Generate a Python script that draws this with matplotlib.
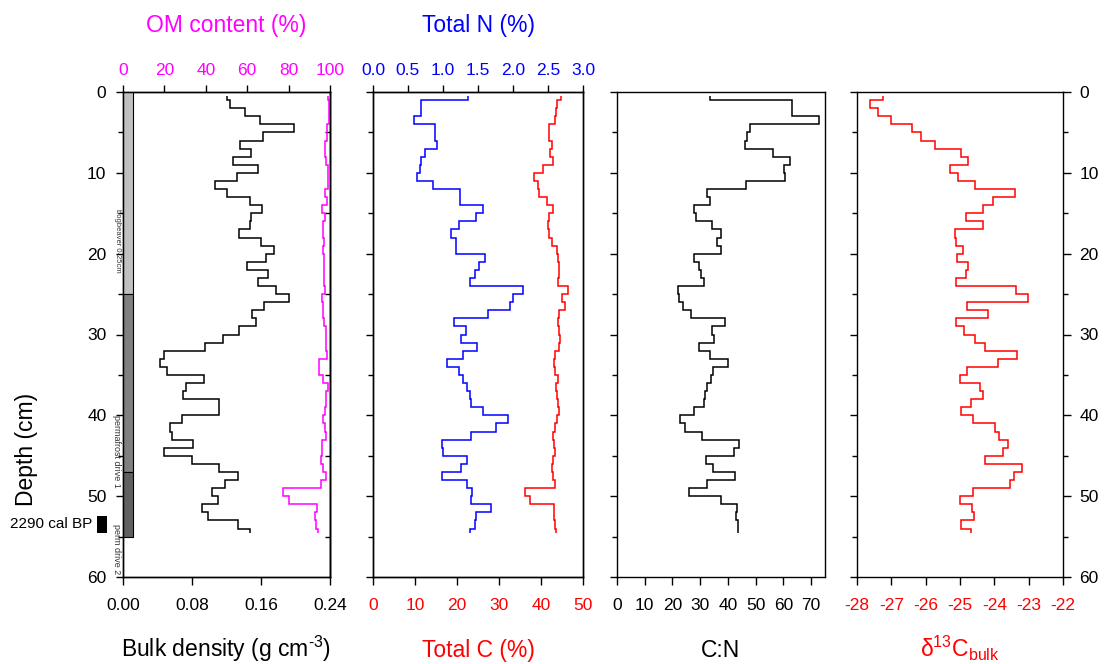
import matplotlib
matplotlib.use('Agg')
import matplotlib.pyplot as plt
from matplotlib.patches import Rectangle
from matplotlib.ticker import FixedLocator, MultipleLocator

plt.rcParams['font.family'] = ['Liberation Sans', 'DejaVu Sans']
plt.rcParams['mathtext.fontset'] = 'custom'
plt.rcParams['mathtext.rm'] = 'Liberation Sans'
plt.rcParams['mathtext.it'] = 'Liberation Sans:italic'
plt.rcParams['mathtext.default'] = 'regular'
plt.rcParams['axes.unicode_minus'] = False
plt.rcParams['axes.linewidth'] = 1.0

# ---------------- data ----------------
depth_edges = [0.5, 1, 2, 3, 4, 5, 6, 7, 8, 9, 10, 11, 12, 13, 14, 15, 16, 17, 18, 19,
               20, 21, 22, 23, 24, 25, 26, 27, 28, 29, 30, 31, 32, 33, 34, 35, 36, 37, 38,
               39, 40, 41, 42, 43, 44, 45, 46, 47, 48, 49, 50, 51, 52, 53, 54, 54.5]

bulk_density = [0.120, 0.124, 0.142, 0.159, 0.198, 0.162, 0.136, 0.148, 0.127, 0.156,
                0.132, 0.107, 0.120, 0.147, 0.161, 0.148, 0.147, 0.134, 0.160, 0.175,
                0.166, 0.144, 0.168, 0.157, 0.177, 0.192, 0.163, 0.150, 0.154, 0.135,
                0.116, 0.095, 0.047, 0.043, 0.051, 0.094, 0.073, 0.070, 0.111, 0.111,
                0.068, 0.054, 0.057, 0.081, 0.047, 0.080, 0.111, 0.133, 0.118, 0.103,
                0.110, 0.092, 0.098, 0.133, 0.147]

om_content = [99.2, 99.7, 99.7, 99.5, 98.6, 98.4, 97.7, 97.7, 97.9, 98.9,
              98.9, 98.9, 97.6, 98.4, 96.0, 97.6, 96.8, 96.8, 96.9, 96.8,
              97.1, 97.1, 97.3, 97.1, 97.6, 96.3, 96.8, 96.8, 97.0, 98.1,
              98.1, 98.1, 98.7, 94.9, 94.9, 96.8, 99.2, 98.1, 98.1, 97.6,
              96.5, 97.6, 98.1, 96.0, 96.0, 95.5, 96.8, 98.1, 95.5, 77.5,
              80.1, 93.6, 92.8, 93.2, 94.4]

total_n = [1.35, 0.69, 0.69, 0.59, 0.88, 0.89, 0.92, 0.74, 0.69, 0.67,
           0.63, 0.86, 1.24, 1.24, 1.57, 1.47, 1.23, 1.12, 1.18, 1.18,
           1.60, 1.52, 1.45, 1.39, 2.14, 2.00, 1.95, 1.64, 1.15, 1.33,
           1.25, 1.48, 1.29, 1.06, 1.23, 1.29, 1.34, 1.38, 1.40, 1.57,
           1.93, 1.75, 1.40, 0.98, 1.00, 1.34, 1.26, 0.98, 1.34, 1.41,
           1.40, 1.68, 1.47, 1.45, 1.39]

total_c = [44.8, 43.7, 43.6, 43.3, 42.0, 41.8, 42.6, 42.1, 42.8, 40.5,
           38.4, 39.4, 39.6, 41.4, 42.8, 41.8, 41.7, 41.8, 42.5, 43.8,
           44.1, 44.2, 44.4, 44.1, 46.4, 44.9, 45.8, 44.2, 44.1, 44.4,
           44.5, 44.4, 43.3, 43.0, 43.4, 44.0, 43.6, 43.7, 44.0, 44.4,
           43.7, 43.3, 42.9, 43.2, 43.4, 42.8, 42.6, 42.8, 43.4, 36.1,
           37.4, 43.2, 43.0, 43.3, 43.6]

c_to_n = [33.4, 63.2, 63.2, 72.9, 47.8, 46.9, 46.3, 56.3, 62.4, 60.2,
          60.6, 46.6, 32.4, 33.6, 27.6, 28.5, 34.2, 37.5, 36.0, 37.5,
          27.9, 29.6, 30.4, 31.4, 21.9, 22.5, 23.7, 26.6, 38.8, 34.2,
          35.1, 29.7, 33.6, 40.0, 34.6, 34.0, 32.6, 31.8, 31.2, 27.9,
          22.7, 24.5, 30.6, 43.9, 42.3, 32.2, 34.5, 42.7, 32.6, 25.8,
          37.6, 43.3, 43.0, 43.5, 43.5]

d13c = [-27.24, -27.61, -27.40, -27.01, -26.40, -26.14, -25.74, -24.96, -24.77, -25.28,
        -25.06, -24.55, -23.41, -24.05, -24.34, -24.82, -24.33, -25.14, -25.11, -24.92,
        -25.09, -24.77, -24.82, -25.11, -23.36, -23.02, -24.80, -24.17, -25.11, -24.87,
        -24.55, -24.26, -23.34, -23.90, -24.80, -24.99, -24.41, -24.34, -24.67, -24.96,
        -24.63, -23.99, -23.87, -23.60, -23.75, -24.26, -23.19, -23.42, -23.53, -24.62,
        -24.99, -24.65, -24.60, -24.96, -24.67]

core_bounds = [0, 25, 47, 55]
core_colors = ['#c0c0c0', '#808080', '#606060']
core_labels = ['bogbeaver 0-25cm', 'permafrost drive 1', 'perm drive 2']
core_label_top = [14.5, 40.0, 53.5]
date_label = '2290 cal BP'
date_depth = [52.4, 54.6]

depth_ticks = [0, 10, 20, 30, 40, 50, 60]
bd_ticks = [0.00, 0.08, 0.16, 0.24]
om_ticks = [0, 20, 40, 60, 80, 100]
n_ticks = [0.0, 0.5, 1.0, 1.5, 2.0, 2.5, 3.0]
c_ticks = [0, 10, 20, 30, 40, 50]
cn_ticks = [0, 10, 20, 30, 40, 50, 60, 70]
d13c_ticks = [-28, -27, -26, -25, -24, -23, -22]

# ---------------- layout ----------------
W, H = 1104, 664
fig = plt.figure(figsize=(W / 100, H / 100), dpi=100)

def fx(px):
    return px / W

def fy(py):
    return 1 - py / H

def rect(x0, x1, ytop=92, ybot=577):
    return [x0 / W, 1 - ybot / H, (x1 - x0) / W, (ybot - ytop) / H]

TFS = 12.5
LFS = 16.5
MAJ = 5.4
MIN = 3.5
LW = 1.1
MAGENTA = '#ff00ff'
BLUE = '#0000ff'
RED = '#ff0000'


def depth_axis(ax, left_labels=False, right=False):
    ax.set_ylim(60, 0)
    ax.yaxis.set_major_locator(FixedLocator(depth_ticks))
    ax.yaxis.set_minor_locator(MultipleLocator(5))
    ax.tick_params(axis='y', which='both', direction='out', left=True,
                   right=right, labelleft=left_labels, labelright=right,
                   labelsize=TFS, pad=6.5, width=1.0)
    ax.tick_params(axis='y', which='major', length=MAJ)
    ax.tick_params(axis='y', which='minor', length=MIN)


def bottom_axis(ax, lim, ticks, labels, color):
    ax.set_xlim(*lim)
    ax.set_xticks(ticks)
    ax.set_xticklabels(labels)
    ax.tick_params(axis='x', which='major', direction='out', bottom=True, top=False,
                   length=MAJ, width=1.0, labelsize=TFS, labelcolor=color, pad=10)


# Panel 1: bulk density + OM
ax1 = fig.add_axes(rect(123, 330))
depth_axis(ax1, left_labels=True)
bottom_axis(ax1, (0, 0.24), bd_ticks, ['%.2f' % t for t in bd_ticks], 'black')
ax1.stairs(bulk_density, depth_edges, orientation='horizontal', baseline=None,
           color='black', lw=LW)

ax1b = ax1.twiny()
ax1b.set_xlim(0, 100)
ax1b.set_xticks(om_ticks)
ax1b.set_xticklabels([str(t) for t in om_ticks])
ax1b.tick_params(axis='x', direction='out', length=MAJ, width=1.0, labelsize=TFS,
                 labelcolor=MAGENTA, pad=4.5)
ax1b.stairs(om_content, depth_edges, orientation='horizontal', baseline=None,
            color=MAGENTA, lw=LW)

sec = ax1.secondary_yaxis('right')
sec.set_yticks([])
sec.yaxis.set_minor_locator(FixedLocator([5, 15, 25, 35, 45, 55]))
sec.tick_params(which='minor', direction='in', length=MIN, width=1.0)
sec.tick_params(which='major', length=0, labelright=False)

# core strip
ytr = ax1.get_yaxis_transform()
strip_w = 9.5 / 207
for i, col in enumerate(core_colors):
    ax1.add_patch(Rectangle((0, core_bounds[i]), strip_w,
                            core_bounds[i + 1] - core_bounds[i],
                            transform=ytr, facecolor=col, edgecolor='black',
                            lw=0.8, zorder=3))
for lab, top, fs in zip(core_labels, core_label_top, [5.5, 6.5, 6.5]):
    ax1.text(-6 / 207, top, lab, transform=ytr, rotation=270, ha='center',
             va='top', fontsize=fs, color='#333333', clip_on=False)
ax1.add_patch(Rectangle((-26 / 207, date_depth[0]), 10 / 207,
                        date_depth[1] - date_depth[0], transform=ytr,
                        facecolor='black', edgecolor='none', clip_on=False))
ax1.text(-31 / 207, sum(date_depth) / 2, date_label, transform=ytr, ha='right',
         va='center', fontsize=11, clip_on=False)

# Panel 2: Total C + Total N
ax2 = fig.add_axes(rect(373, 583))
depth_axis(ax2)
bottom_axis(ax2, (0, 50), c_ticks, [str(t) for t in c_ticks], RED)
ax2.stairs(total_c, depth_edges, orientation='horizontal', baseline=None,
           color=RED, lw=LW)
ax2b = ax2.twiny()
ax2b.set_xlim(0, 3)
ax2b.set_xticks(n_ticks)
ax2b.set_xticklabels(['%.1f' % t for t in n_ticks])
ax2b.tick_params(axis='x', direction='out', length=MAJ, width=1.0, labelsize=TFS,
                 labelcolor=BLUE, pad=4.5)
ax2b.stairs(total_n, depth_edges, orientation='horizontal', baseline=None,
            color=BLUE, lw=LW)

# Panel 3: C:N
ax3 = fig.add_axes(rect(617, 825))
depth_axis(ax3)
bottom_axis(ax3, (0, 75), cn_ticks, [str(t) for t in cn_ticks], 'black')
ax3.stairs(c_to_n, depth_edges, orientation='horizontal', baseline=None,
           color='black', lw=LW)

# Panel 4: d13C
ax4 = fig.add_axes(rect(857, 1063))
depth_axis(ax4, right=True)
bottom_axis(ax4, (-28, -22), d13c_ticks, [str(t) for t in d13c_ticks], RED)
ax4.stairs(d13c, depth_edges, orientation='horizontal', baseline=None,
           color=RED, lw=LW)

# Titles / labels
fig.text(fx(226.5), fy(32), 'OM content (%)', color=MAGENTA, fontsize=LFS,
         ha='center', va='baseline')
fig.text(fx(478), fy(32), 'Total N (%)', color=BLUE, fontsize=LFS,
         ha='center', va='baseline')
fig.text(fx(226.5), fy(657), r'Bulk density (g cm$^{\text{-3}}$)', fontsize=LFS,
         ha='center', va='baseline')
fig.text(fx(478), fy(657), 'Total C (%)', color=RED, fontsize=LFS,
         ha='center', va='baseline')
fig.text(fx(721), fy(657), 'C:N', fontsize=LFS, ha='center', va='baseline')
fig.text(fx(960), fy(657), 'δ$^{13}$C$_{bulk}$', color=RED, fontsize=LFS,
         ha='center', va='baseline')
fig.text(fx(27), fy(449), 'Depth (cm)', rotation=90, fontsize=LFS,
         ha='center', va='center')

fig.savefig('out.png', dpi=100)
